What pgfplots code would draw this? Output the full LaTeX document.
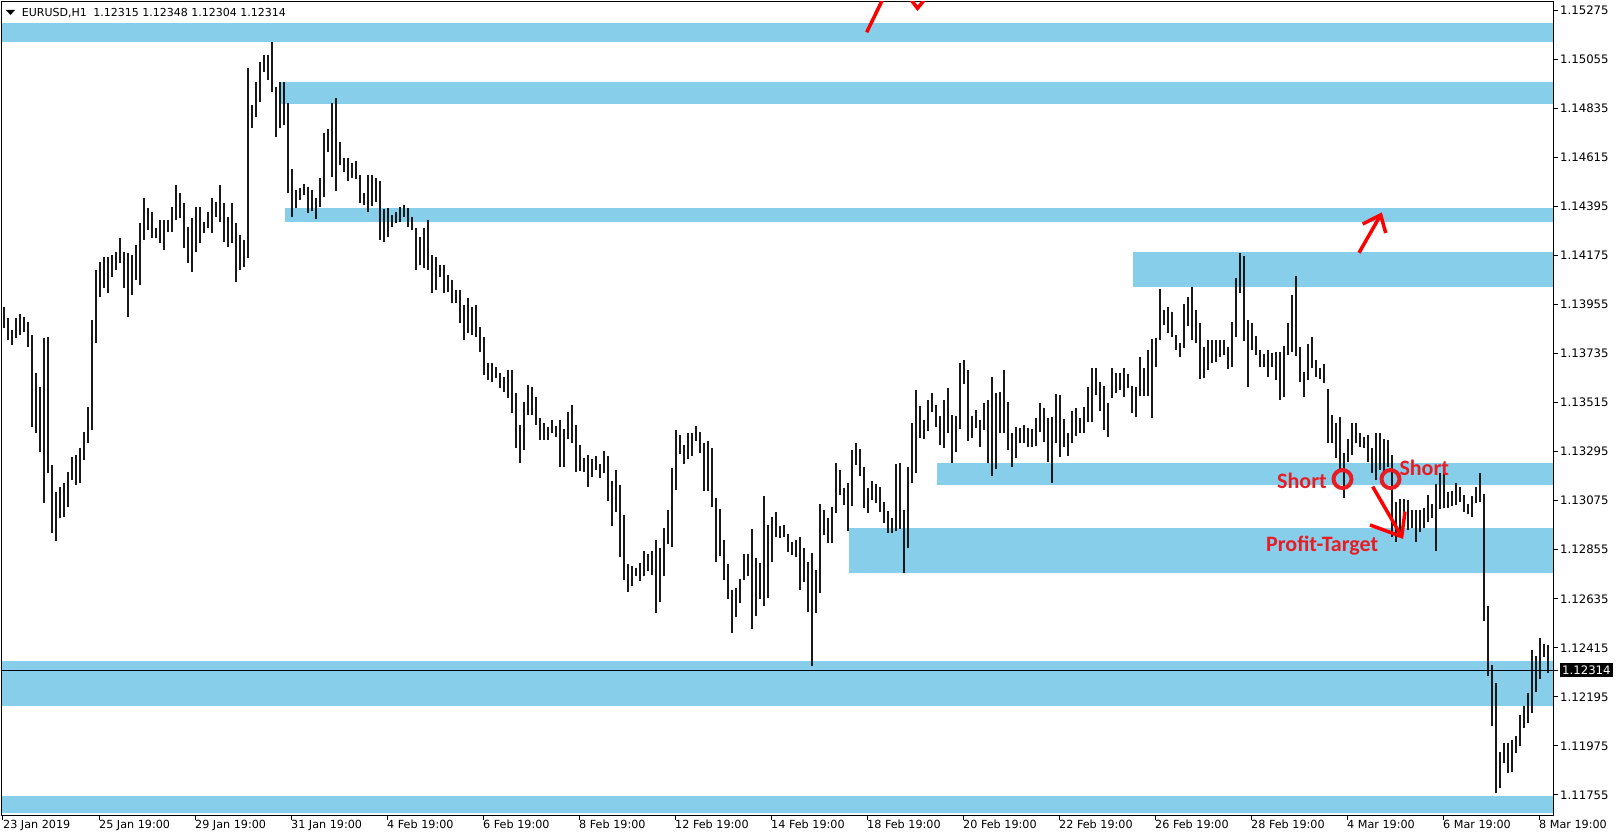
\documentclass[border=0pt]{standalone}
\usepackage{fontspec}
\setmainfont{DejaVu Sans}
\newfontfamily\annotfont{Carlito}
\usepackage{pgfplots}
\usepackage{pgfplotstable}
\pgfplotsset{compat=1.18}
\definecolor{band}{RGB}{135,206,235}
\definecolor{annot}{RGB}{232,28,36}
\definecolor{arrowred}{RGB}{255,0,0}

\pgfplotstableread{
x lo hi
4 1.13848 1.13945
8 1.13796 1.13893
12 1.13773 1.13841
16 1.13803 1.13893
20 1.13818 1.13912
24 1.13833 1.13900
28 1.13764 1.13878
32 1.13407 1.13818
36 1.13377 1.13646
40 1.13295 1.13586
44 1.13063 1.13803
48 1.13198 1.13811
52 1.12930 1.13235
56 1.12892 1.13115
60 1.12996 1.13138
64 1.13003 1.13153
68 1.13048 1.13205
72 1.13168 1.13272
76 1.13145 1.13280
80 1.13153 1.13310
84 1.13257 1.13385
88 1.13332 1.13497
92 1.13392 1.13886
96 1.13781 1.14110
100 1.13990 1.14147
104 1.14028 1.14170
108 1.14005 1.14170
112 1.14080 1.14177
116 1.14110 1.14192
120 1.14140 1.14252
124 1.14028 1.14192
128 1.13900 1.14185
132 1.13998 1.14177
136 1.14065 1.14222
140 1.14042 1.14319
144 1.14244 1.14431
148 1.14289 1.14387
152 1.14252 1.14371
156 1.14252 1.14297
160 1.14230 1.14334
164 1.14200 1.14334
168 1.14282 1.14334
172 1.14282 1.14394
176 1.14334 1.14491
180 1.14342 1.14454
184 1.14209 1.14409
188 1.14140 1.14304
192 1.14102 1.14342
196 1.14192 1.14394
200 1.14230 1.14394
204 1.14274 1.14327
208 1.14297 1.14371
212 1.14274 1.14431
216 1.14349 1.14416
220 1.14327 1.14491
224 1.14237 1.14409
228 1.14215 1.14349
232 1.14230 1.14409
236 1.14058 1.14319
240 1.14110 1.14267
244 1.14125 1.14244
248 1.14163 1.15015
252 1.14745 1.14850
256 1.14797 1.14955
260 1.14865 1.15044
264 1.14999 1.15072
268 1.14962 1.15072
272 1.14910 1.15134
276 1.14708 1.14932
280 1.14745 1.14955
284 1.14760 1.14955
288 1.14454 1.14857
292 1.14349 1.14565
296 1.14387 1.14469
300 1.14424 1.14476
304 1.14446 1.14496
308 1.14367 1.14484
312 1.14374 1.14469
316 1.14337 1.14431
320 1.14394 1.14521
324 1.14439 1.14723
328 1.14640 1.14742
332 1.14528 1.14857
336 1.14464 1.14880
340 1.14581 1.14686
344 1.14551 1.14611
348 1.14511 1.14611
352 1.14521 1.14589
356 1.14518 1.14600
360 1.14409 1.14536
364 1.14401 1.14454
368 1.14371 1.14536
372 1.14398 1.14536
376 1.14417 1.14521
380 1.14244 1.14507
384 1.14237 1.14382
388 1.14259 1.14387
392 1.14304 1.14357
396 1.14319 1.14371
400 1.14327 1.14392
404 1.14349 1.14401
408 1.14304 1.14387
412 1.14289 1.14349
416 1.14110 1.14297
420 1.14132 1.14259
424 1.14117 1.14297
428 1.14110 1.14334
432 1.14005 1.14177
436 1.14020 1.14170
440 1.14080 1.14132
444 1.14005 1.14132
448 1.14013 1.14087
452 1.13960 1.14065
456 1.13960 1.14020
460 1.13871 1.14020
464 1.13796 1.13953
468 1.13826 1.13983
472 1.13818 1.13945
476 1.13811 1.13953
480 1.13743 1.13855
484 1.13639 1.13811
488 1.13616 1.13691
492 1.13609 1.13691
496 1.13624 1.13676
500 1.13579 1.13646
504 1.13564 1.13631
508 1.13534 1.13661
512 1.13467 1.13661
516 1.13310 1.13556
520 1.13243 1.13415
524 1.13302 1.13519
528 1.13459 1.13594
532 1.13459 1.13586
536 1.13415 1.13541
540 1.13347 1.13444
544 1.13347 1.13422
548 1.13347 1.13407
552 1.13377 1.13436
556 1.13362 1.13410
560 1.13228 1.13436
564 1.13224 1.13395
568 1.13352 1.13474
572 1.13332 1.13504
576 1.13205 1.13415
580 1.13208 1.13325
584 1.13205 1.13265
588 1.13138 1.13280
592 1.13183 1.13261
596 1.13213 1.13276
600 1.13178 1.13239
604 1.13201 1.13299
608 1.13075 1.13276
612 1.12963 1.13165
616 1.13026 1.13213
620 1.12821 1.13145
624 1.12717 1.13011
628 1.12667 1.12791
632 1.12693 1.12782
636 1.12737 1.12773
640 1.12715 1.12797
644 1.12735 1.12850
648 1.12760 1.12836
652 1.12742 1.12851
656 1.12572 1.12899
660 1.12622 1.12864
664 1.12735 1.12954
668 1.12881 1.13033
672 1.12869 1.13220
676 1.13123 1.13392
680 1.13284 1.13370
684 1.13238 1.13325
688 1.13262 1.13380
692 1.13276 1.13377
696 1.13344 1.13410
700 1.13290 1.13385
704 1.13120 1.13332
708 1.13120 1.13342
712 1.13045 1.13310
716 1.12802 1.13086
720 1.12827 1.13036
724 1.12719 1.12899
728 1.12635 1.12791
732 1.12483 1.12674
736 1.12552 1.12682
740 1.12617 1.12722
744 1.12717 1.12836
748 1.12735 1.12836
752 1.12498 1.12946
756 1.12558 1.12817
760 1.12633 1.12797
764 1.12604 1.13096
768 1.12640 1.12966
772 1.12802 1.13003
776 1.12910 1.13023
780 1.12906 1.12961
784 1.12913 1.12966
788 1.12846 1.12926
792 1.12831 1.12891
796 1.12821 1.12899
800 1.12674 1.12911
804 1.12712 1.12861
808 1.12577 1.12802
812 1.12334 1.12842
816 1.12572 1.12764
820 1.12661 1.13060
824 1.12921 1.13033
828 1.12887 1.12996
832 1.12887 1.13048
836 1.13021 1.13245
840 1.13101 1.13213
844 1.13056 1.13133
848 1.12941 1.13156
852 1.13051 1.13302
856 1.13235 1.13335
860 1.13186 1.13306
864 1.13041 1.13224
868 1.13018 1.13131
872 1.13078 1.13165
876 1.13063 1.13149
880 1.13026 1.13138
884 1.12973 1.13070
888 1.12930 1.13030
892 1.12932 1.12999
896 1.12941 1.13239
900 1.12947 1.13245
904 1.12749 1.13033
908 1.12861 1.13224
912 1.13156 1.13422
916 1.13201 1.13572
920 1.13355 1.13500
924 1.13350 1.13437
928 1.13389 1.13527
932 1.13474 1.13559
936 1.13407 1.13504
940 1.13325 1.13455
944 1.13310 1.13527
948 1.13377 1.13579
952 1.13243 1.13459
956 1.13295 1.13455
960 1.13395 1.13694
964 1.13598 1.13706
968 1.13344 1.13661
972 1.13355 1.13455
976 1.13400 1.13481
980 1.13317 1.13437
984 1.13392 1.13515
988 1.13245 1.13527
992 1.13187 1.13631
996 1.13216 1.13559
1000 1.13377 1.13564
1004 1.13377 1.13661
1008 1.13302 1.13519
1012 1.13224 1.13377
1016 1.13265 1.13404
1020 1.13332 1.13400
1024 1.13335 1.13415
1028 1.13317 1.13400
1032 1.13317 1.13395
1036 1.13320 1.13444
1040 1.13385 1.13512
1044 1.13340 1.13489
1048 1.13250 1.13444
1052 1.13156 1.13452
1056 1.13332 1.13553
1060 1.13272 1.13549
1064 1.13314 1.13440
1068 1.13276 1.13380
1072 1.13332 1.13478
1076 1.13365 1.13489
1080 1.13377 1.13444
1084 1.13380 1.13494
1088 1.13429 1.13584
1092 1.13429 1.13669
1096 1.13549 1.13669
1100 1.13478 1.13609
1104 1.13392 1.13590
1108 1.13362 1.13515
1112 1.13534 1.13669
1116 1.13559 1.13649
1120 1.13572 1.13649
1124 1.13539 1.13669
1128 1.13579 1.13642
1132 1.13469 1.13590
1136 1.13449 1.13586
1140 1.13545 1.13718
1144 1.13545 1.13669
1148 1.13545 1.13751
1152 1.13444 1.13799
1156 1.13676 1.13803
1160 1.13796 1.14023
1164 1.13863 1.13930
1168 1.13826 1.13943
1172 1.13811 1.13923
1176 1.13751 1.13818
1180 1.13718 1.13784
1184 1.13759 1.13957
1188 1.13858 1.13990
1192 1.13796 1.14032
1196 1.13781 1.13930
1200 1.13620 1.13873
1204 1.13624 1.13766
1208 1.13661 1.13796
1212 1.13691 1.13796
1216 1.13699 1.13796
1220 1.13721 1.13796
1224 1.13729 1.13796
1228 1.13665 1.13766
1232 1.13676 1.13878
1236 1.13811 1.14072
1240 1.14005 1.14187
1244 1.13793 1.14173
1248 1.13586 1.13886
1252 1.13751 1.13871
1256 1.13729 1.13814
1260 1.13676 1.13751
1264 1.13676 1.13733
1268 1.13631 1.13751
1272 1.13673 1.13739
1276 1.13616 1.13743
1280 1.13527 1.13743
1284 1.13541 1.13768
1288 1.13729 1.13871
1292 1.13743 1.13998
1296 1.13724 1.14083
1300 1.13609 1.13766
1304 1.13539 1.13654
1308 1.13616 1.13777
1312 1.13669 1.13811
1316 1.13631 1.13706
1320 1.13620 1.13669
1324 1.13602 1.13688
1328 1.13335 1.13575
1332 1.13332 1.13459
1336 1.13265 1.13422
1340 1.13205 1.13452
1344 1.13086 1.13287
1348 1.13250 1.13350
1352 1.13280 1.13425
1356 1.13332 1.13425
1360 1.13317 1.13380
1364 1.13310 1.13362
1368 1.13250 1.13370
1372 1.13198 1.13310
1376 1.13168 1.13380
1380 1.13213 1.13380
1384 1.13198 1.13350
1388 1.13224 1.13347
1392 1.12912 1.13280
1396 1.12891 1.13071
1400 1.12931 1.13081
1404 1.12991 1.13081
1408 1.12943 1.13078
1412 1.12951 1.13033
1416 1.12891 1.13033
1420 1.12936 1.13033
1424 1.12951 1.13041
1428 1.12981 1.13100
1432 1.12996 1.13060
1436 1.12851 1.13150
1440 1.13036 1.13198
1444 1.13041 1.13231
1448 1.13041 1.13115
1452 1.13051 1.13120
1456 1.13056 1.13156
1460 1.13071 1.13135
1464 1.13026 1.13101
1468 1.13015 1.13060
1472 1.13003 1.13096
1476 1.13066 1.13135
1480 1.13071 1.13201
1484 1.12537 1.13105
1488 1.12288 1.12602
1492 1.12064 1.12338
1496 1.11762 1.12255
1500 1.11785 1.11949
1504 1.11897 1.11987
1508 1.11855 1.11990
1512 1.11859 1.12002
1516 1.11942 1.12020
1520 1.11975 1.12114
1524 1.12054 1.12154
1528 1.12079 1.12211
1532 1.12124 1.12405
1536 1.12218 1.12378
1540 1.12274 1.12457
1544 1.12375 1.12432
1548 1.12304 1.12427
}\bars

\begin{document}
\begin{tikzpicture}
\useasboundingbox (0pt,0pt) rectangle (1617pt,838pt);
\begin{axis}[
  at={(2pt,23pt)}, anchor=south west,
  scale only axis, width=1551pt, height=813pt,
  xmin=2, xmax=1553, ymin=1.11665, ymax=1.15312,
  axis line style={black, line width=1pt},
  tick style={black, line width=1pt},
  tick align=outside, major tick length=5pt,
  xtick pos=left, ytick pos=right, yticklabel pos=right,
  xtick={3,99,195,291,387,483,579,675,771,867,963,1059,1155,1251,1347,1443,1539},
  xticklabels={23 Jan 2019, 25 Jan 19:00, 29 Jan 19:00, 31 Jan 19:00, 4 Feb 19:00, 6 Feb 19:00, 8 Feb 19:00, 12 Feb 19:00, 14 Feb 19:00, 18 Feb 19:00, 20 Feb 19:00, 22 Feb 19:00, 26 Feb 19:00, 28 Feb 19:00, 4 Mar 19:00, 6 Mar 19:00, 8 Mar 19:00},
  xticklabel style={anchor=north west, inner sep=0pt, font=\fontsize{11.2}{13}\selectfont},
  ytick={1.11755,1.11975,1.12195,1.12415,1.12635,1.12855,1.13075,1.13295,1.13515,1.13735,1.13955,1.14175,1.14395,1.14615,1.14835,1.15055,1.15275},
  yticklabels={1.11755,1.11975,1.12195,1.12415,1.12635,1.12855,1.13075,1.13295,1.13515,1.13735,1.13955,1.14175,1.14395,1.14615,1.14835,1.15055,1.15275},
  yticklabel style={anchor=west, inner sep=0pt, xshift=2pt, font=\fontsize{11.7}{13}\selectfont},
  extra y ticks={1.12314},
  extra y tick labels={1.12314},
  extra y tick style={yticklabel style={fill=black, text=white, inner sep=2.5pt, xshift=-0.5pt}},
  minor tick num=0,
  clip=true,
]
% zones
\addplot[fill=band, draw=none] coordinates {(2,1.15134) (1553,1.15134) (1553,1.15219) (2,1.15219)} -- cycle;
\addplot[fill=band, draw=none] coordinates {(279,1.14854) (1553,1.14854) (1553,1.14955) (279,1.14955)} -- cycle;
\addplot[fill=band, draw=none] coordinates {(285,1.14326) (1553,1.14326) (1553,1.14389) (285,1.14389)} -- cycle;
\addplot[fill=band, draw=none] coordinates {(1133,1.14032) (1553,1.14032) (1553,1.14191) (1133,1.14191)} -- cycle;
\addplot[fill=band, draw=none] coordinates {(937,1.13145) (1553,1.13145) (1553,1.13245) (937,1.13245)} -- cycle;
\addplot[fill=band, draw=none] coordinates {(849,1.12749) (1553,1.12749) (1553,1.12954) (849,1.12954)} -- cycle;
\addplot[fill=band, draw=none] coordinates {(2,1.12155) (1553,1.12155) (1553,1.12356) (2,1.12356)} -- cycle;
\addplot[fill=band, draw=none] coordinates {(2,1.11672) (1553,1.11672) (1553,1.11750) (2,1.11750)} -- cycle;
% price bars (low to high)
\addplot[draw=none, mark=none, error bars/.cd, y dir=plus, y explicit, error mark=none,
  error bar style={draw=black!90, line width=1.2pt}]
  table[x=x, y=lo, y error expr=\thisrow{hi}-\thisrow{lo}] {\bars};
% current price line
\addplot[black, line width=1pt] coordinates {(2,1.12314) (1553,1.12314)};
% red annotations
\addplot[arrowred, line width=3.5pt] coordinates {(866.7,1.15176) (885.5,1.15350)};
\addplot[arrowred, line width=3.5pt] coordinates {(910.5,1.15325) (917.5,1.15284) (925,1.15325)};
\addplot[arrowred, line width=3.5pt] coordinates {(1359,1.14187) (1380.7,1.14357)};
\addplot[arrowred, line width=3.5pt] coordinates {(1362.7,1.14316) (1380.7,1.14357) (1385.7,1.14276)};
\addplot[arrowred, line width=3.5pt] coordinates {(1372.7,1.13138) (1401.7,1.12914)};
\addplot[arrowred, line width=3.5pt] coordinates {(1370,1.12966) (1401.7,1.12914) (1405,1.13026)};
\addplot[only marks, mark=o, mark size=9pt, mark options={draw=annot, line width=4pt}] coordinates {(1342.5,1.13172) (1390.5,1.13172)};
\node[anchor=base west, inner sep=0pt, text=annot, font=\annotfont\bfseries\fontsize{22}{24}\selectfont] at (axis cs:1277,1.13131) {Short};
\node[anchor=base west, inner sep=0pt, text=annot, font=\annotfont\bfseries\fontsize{22}{24}\selectfont] at (axis cs:1399.3,1.13186) {Short};
\node[anchor=base west, inner sep=0pt, text=annot, font=\annotfont\bfseries\fontsize{22}{24}\selectfont] at (axis cs:1266,1.12845) {Profit-Target};
\end{axis}
\fill[black] (6pt,828pt) -- (15pt,828pt) -- (10.5pt,823pt) -- cycle;
\node[anchor=base west, inner sep=0pt, font=\fontsize{11}{13}\selectfont] at (21.7pt,821pt) {EURUSD,H1\hspace{0.6em}1.12315 1.12348 1.12304 1.12314};
\end{tikzpicture}
\end{document}
